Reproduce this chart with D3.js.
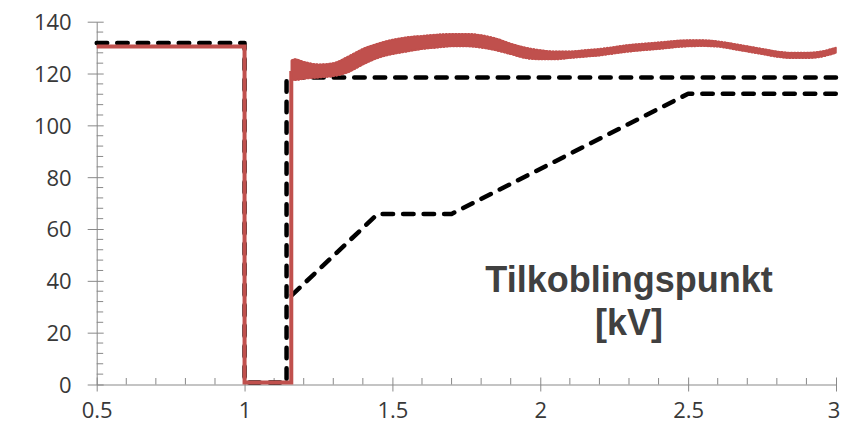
<!DOCTYPE html>
<html>
<head>
<meta charset="utf-8">
<script src="https://cdn.jsdelivr.net/npm/d3@7"></script>
<style>
  html, body { margin: 0; padding: 0; background: #fff; }
  svg { display: block; }
</style>
</head>
<body>
<svg id="chart" width="841" height="431"></svg>
<script>
// ---- data ----
const xTicks = [0.5, 1, 1.5, 2, 2.5, 3];
const yTicks = [0, 20, 40, 60, 80, 100, 120, 140];
const xTickLabels = ["0.5", "1", "1.5", "2", "2.5", "3"];
const yTickLabels = ["0", "20", "40", "60", "80", "100", "120", "140"];

// measured voltage (red): step part before recovery
const measStepX = [0.5, 1.0, 1.0, 1.158, 1.158];
const measStepY = [130.4, 130.4, 0.8, 0.8, 121];
// measured voltage after recovery: oscillation envelope
const measX     = [1.158, 1.17, 1.2, 1.25, 1.3, 1.35, 1.4, 1.45, 1.5, 1.55, 1.6, 1.65, 1.7, 1.75, 1.8, 1.85, 1.9, 1.95, 2.0, 2.05, 2.1, 2.15, 2.2, 2.3, 2.4, 2.5, 2.55, 2.6, 2.65, 2.7, 2.75, 2.8, 2.85, 2.9, 2.95, 3.0];
const measUpper = [125, 125.5, 124.5, 123.5, 124, 126.5, 129.5, 131.5, 133, 134, 134.5, 135, 135.3, 135.3, 134.8, 133.5, 131.5, 130, 129, 128.5, 128.5, 129, 129.5, 131, 132, 132.8, 132.8, 132.4, 131.5, 130.5, 129.5, 128.5, 128, 128, 128.5, 130];
const measLower = [117.5, 117.5, 118, 118.5, 119, 120.5, 123.5, 126, 127.5, 128.5, 129.5, 130, 130.5, 130.5, 130, 129, 127.5, 126, 125.5, 125.5, 126, 126.5, 127, 128.5, 129.5, 130.5, 130.6, 130.4, 129.5, 128.5, 127.5, 126.5, 126, 126, 126.5, 128];

// upper limit (black dashed)
const limHighX = [0.5, 1.0, 1.0, 1.142, 1.142, 3.0];
const limHighY = [131.8, 131.8, 0.8, 0.8, 118.5, 118.5];
// lower limit (black dashed)
const limLowX = [1.16, 1.45, 1.7, 2.5, 3.0];
const limLowY = [34.5, 65.8, 65.8, 112.2, 112.2];

const titleLines = ["Tilkoblingspunkt", "[kV]"];

// ---- drawing ----
const svg = d3.select("#chart");
const x = d3.scaleLinear().domain([0.5, 3]).range([96.7, 836]);
const y = d3.scaleLinear().domain([0, 140]).range([384.5, 21.7]);

const axisColor = "#898989";
const textColor = "#383838";
const red = "#C0504D";

// minor ticks
const xMinor = d3.range(5, 31).map(d => d / 10).filter(v => !xTicks.some(t => Math.abs(t - v) < 1e-9));
const yMinor = d3.range(0, 141, 4).filter(v => !yTicks.includes(v));

const axes = svg.append("g");
// Y axis
const yAxis = axes.append("g").attr("transform", `translate(${x(0.5)},0)`);
yAxis.call(d3.axisLeft(y).tickValues(yTicks).tickSizeInner(9).tickSizeOuter(0).tickFormat((d, i) => yTickLabels[i]));
yAxis.selectAll(".tick line").attr("x2", -9).attr("x1", 7).attr("stroke", axisColor);
yAxis.select(".domain").attr("stroke", axisColor);
yAxis.selectAll(".tick text").attr("x", -25).attr("dy", "0.36em")
  .attr("fill", textColor).style("font-family", "'Open Sans', sans-serif").style("font-size", "22px");
yAxis.selectAll(".ymin").data(yMinor).enter().append("line")
  .attr("x1", 0).attr("x2", 6.5).attr("y1", d => y(d)).attr("y2", d => y(d)).attr("stroke", axisColor);

// X axis
const xAxis = axes.append("g").attr("transform", `translate(0,${y(0)})`);
xAxis.call(d3.axisBottom(x).tickValues(xTicks).tickSizeInner(7).tickSizeOuter(0).tickFormat((d, i) => xTickLabels[i]));
xAxis.selectAll(".tick line").attr("y1", -7).attr("y2", 7).attr("stroke", axisColor);
xAxis.select(".domain").attr("stroke", axisColor);
xAxis.selectAll(".tick text").attr("y", 18).attr("dy", "0.72em")
  .attr("x", (d, i) => i === xTicks.length - 1 ? -2.5 : 0)
  .attr("fill", textColor).style("font-family", "'Open Sans', sans-serif").style("font-size", "22px");
xAxis.selectAll(".xmin").data(xMinor).enter().append("line")
  .attr("x1", d => x(d)).attr("x2", d => x(d)).attr("y1", 0).attr("y2", -6.5).attr("stroke", axisColor);
axes.selectAll(".domain").attr("stroke-width", 1);

// lines
const line = d3.line().x(d => x(d[0])).y(d => y(d[1]));
const dashStyle = sel => sel.attr("fill", "none").attr("stroke", "#000").attr("stroke-width", 4.5)
  .attr("stroke-dasharray", "10.5,10").attr("stroke-linecap", "round").attr("stroke-linejoin", "round");

svg.append("path").datum(limHighX.map((v, i) => [v, limHighY[i]])).attr("d", line).call(dashStyle);
svg.append("path").datum(limLowX.map((v, i) => [v, limLowY[i]])).attr("d", line).call(dashStyle);

// red measured
svg.append("path").datum(measStepX.map((v, i) => [v, measStepY[i]])).attr("d", line)
  .attr("fill", "none").attr("stroke", red).attr("stroke-width", 4).attr("stroke-linejoin", "miter");

const area = d3.area().x(d => x(d[0])).y0(d => y(d[1])).y1(d => y(d[2])).curve(d3.curveMonotoneX);
const bandData = measX.map((v, i) => [v, measLower[i], measUpper[i]]);
svg.append("path").datum(bandData).attr("d", area)
  .attr("fill", red).attr("stroke", red).attr("stroke-width", 1.5).attr("stroke-linejoin", "round");
// scalloped edges
const edge = d3.line().x(d => x(d[0])).y(d => y(d[1])).curve(d3.curveMonotoneX);
svg.append("path").datum(measX.map((v, i) => [v, measUpper[i]])).attr("d", edge)
  .attr("fill", "none").attr("stroke", red).attr("stroke-width", 2).attr("stroke-dasharray", "2,1.2");
svg.append("path").datum(measX.map((v, i) => [v, measLower[i]])).attr("d", edge)
  .attr("fill", "none").attr("stroke", red).attr("stroke-width", 2).attr("stroke-dasharray", "2,1.2");

// title text
const t = svg.append("text").attr("text-anchor", "middle")
  .attr("fill", "#404040").style("font-family", "'Liberation Sans', Arial, sans-serif")
  .style("font-weight", "bold").style("font-size", "36px");
t.selectAll("tspan").data(titleLines).enter().append("tspan")
  .attr("x", 629).attr("y", (d, i) => 292 + i * 43).text(d => d);
</script>
</body>
</html>
